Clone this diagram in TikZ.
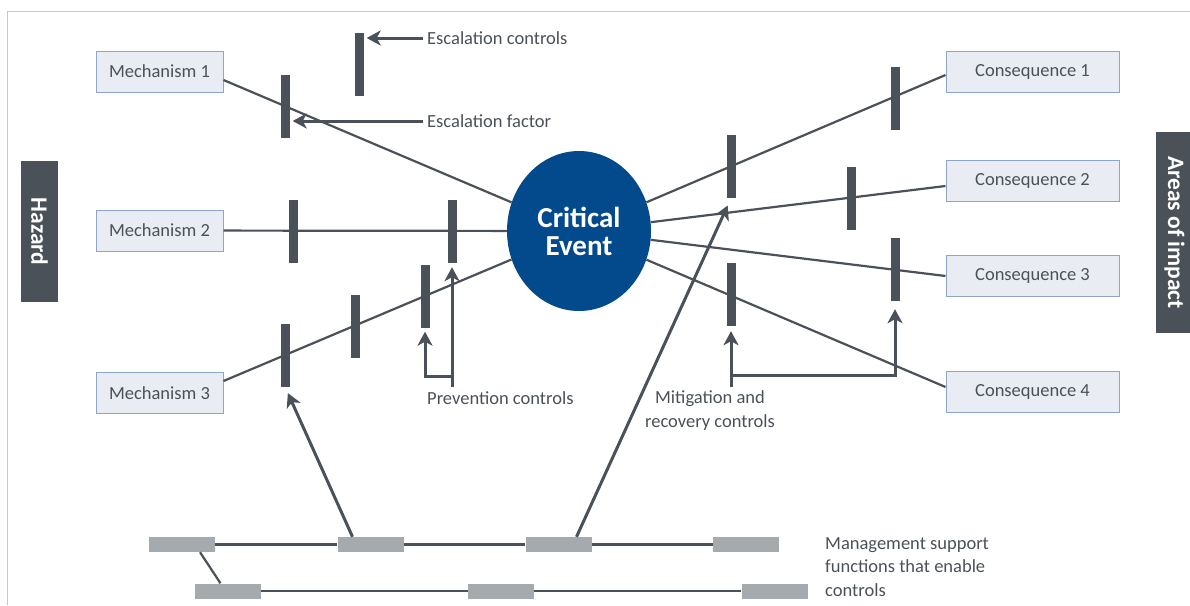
\documentclass[tikz,border=0pt]{standalone}
\usepackage{fontspec}
\setmainfont{Carlito}
\usetikzlibrary{arrows,arrows.meta,shapes.geometric}
\definecolor{slate}{HTML}{4B5159}
\definecolor{boxfill}{HTML}{E9EDF3}
\definecolor{boxline}{HTML}{8CA5C9}
\definecolor{evblue}{HTML}{034A8C}
\definecolor{supportgrey}{HTML}{A5AAAE}
\definecolor{rulegrey}{HTML}{C8C8C8}

\begin{document}
\begin{tikzpicture}
        [x=1pt,y=-1pt,>={Stealth[length=14pt,width=15pt,inset=4pt]},
         every node/.style={font=\fontsize{18.5}{23.5}\selectfont,text=slate,inner sep=4pt},
         cause/.style={rectangle,draw=boxline,fill=boxfill,line width=1pt,minimum width=127pt,minimum height=41pt,inner sep=0pt},
         barrier/.style={rectangle,fill=slate,minimum width=9pt,minimum height=63pt,inner sep=0pt},
         support/.style={rectangle,fill=supportgrey,minimum width=66pt,minimum height=15pt,inner sep=0pt},
         side/.style={rectangle,fill=slate,text=white,rotate=-90,font=\fontsize{23.5}{26}\selectfont\bfseries,minimum height=37pt,inner sep=0pt},
         link/.style={draw=slate,line width=2.2pt},
         arr/.style={->,draw=slate,line width=3pt}]
        \useasboundingbox (0,0) rectangle (1190,605);
        \draw[rulegrey,line width=1pt] (1190,11) -- (7,11) -- (7,605);

        \node[side,minimum width=141pt] (hz) at (39.5,231.5) {Hazard};
        \node[side,minimum width=201pt] (ai) at (1174.5,232.5) {Areas of impact};

        \node[cause] (m1) at (159.5,71.5) {Mechanism 1};
        \node[cause] (m2) at (159.5,230.5) {Mechanism 2};
        \node[cause] (m3) at (159.5,393) {Mechanism 3};
        \node[cause,minimum width=173pt] (c1) at (1032.5,71.5) {Consequence 1};
        \node[cause,minimum width=173pt] (c2) at (1032.5,181) {Consequence 2};
        \node[cause,minimum width=173pt] (c3) at (1032.5,276) {Consequence 3};
        \node[cause,minimum width=173pt] (c4) at (1032.5,391.5) {Consequence 4};

        \node[ellipse,fill=evblue,minimum width=144pt,minimum height=160pt,inner sep=0pt,text=white,align=center,
              font=\fontsize{29}{28}\selectfont\bfseries] (ce) at (579,231) {Critical\\Event};

        \draw[link] ([yshift=-8.5pt]m1.east) -- (ce);
        \draw[link] (m2) -- (ce);
        \draw[link] ([yshift=12pt]m3.east) -- (ce);
        \draw[link] ([yshift=-3.5pt]c1.west) -- (ce);
        \draw[link] ([yshift=-5pt]c2.west) -- (ce);
        \draw[link] (c3.west) -- (ce);
        \draw[link] ([yshift=4.5pt]c4.west) -- (ce);

        \node[barrier] (e1) at (359,64) {};
        \node[barrier] (b1) at (285,106.5) {};
        \node[barrier] (b2) at (293,231.5) {};
        \node[barrier] (b3) at (452,231.5) {};
        \node[barrier] (b4) at (285,355) {};
        \node[barrier] (b5) at (355,326) {};
        \node[barrier] (b6) at (425,296) {};
        \node[barrier] (b7) at (731,166.5) {};
        \node[barrier] (b8) at (895,98.5) {};
        \node[barrier] (b9) at (851,198) {};
        \node[barrier] (b10) at (895,269.5) {};
        \node[barrier] (b11) at (731,294.5) {};

        \node[support] (s1) at (182,544.5) {};
        \node[support] (s2) at (370.5,544.5) {};
        \node[support] (s3) at (558.5,544.5) {};
        \node[support] (s4) at (746,544.5) {};
        \node[support] (s5) at (227.5,591) {};
        \node[support] (s6) at (501,591) {};
        \node[support] (s7) at (774.5,591) {};
        \foreach \from/\to in {s1/s2,s2/s3,s3/s4,s5/s6,s6/s7}
        \draw[link] (\from) -- (\to);
        \draw[link] ([xshift=18pt]s1.south) -- ([xshift=-7pt]s5.north);

        \node[anchor=west] (ec) at (423,38) {Escalation controls};
        \node[anchor=west] (ef) at (423,121) {Escalation factor};
        \node[anchor=west] (pc) at (423,398) {Prevention controls};
        \node[align=center] (mr) at (710,410.5) {Mitigation and\\recovery controls};
        \node[anchor=west,align=left] (ms) at (821,567) {Management support\\functions that enable\\controls};

        \draw[arr,shorten >=3pt] (ec.west) -- (e1.east |- ec.west);
        \draw[arr,shorten >=3pt] (ef.west) -- (b1.east |- ef.west);
        \draw[arr,shorten >=4pt] (b3 |- pc.north) -- (b3.south);
        \coordinate (pj) at (b3 |- 0,376);
        \draw[arr,shorten >=4pt] (pj) -| (b6.south);
        \draw[arr,shorten >=5pt] (b11 |- mr.north) -- (b11.south);
        \coordinate (mj) at (b11 |- 0,375);
        \draw[arr,shorten >=8pt] (mj) -| (b10.south);
        \draw[arr,shorten >=7pt] ([xshift=-18pt]s2.north) -- (b4.south);
        \draw[arr,shorten >=8pt] ([xshift=18pt]s3.north) -- (b7.south);
      \end{tikzpicture}
\end{document}
